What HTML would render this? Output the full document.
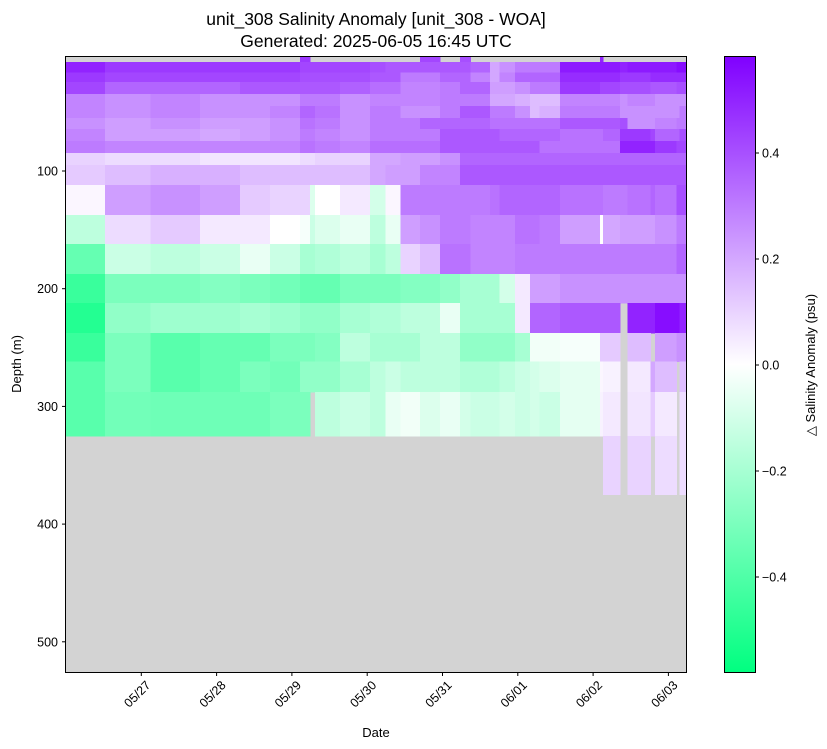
<!DOCTYPE html>
<html><head><meta charset="utf-8"><style>
body{margin:0;background:#fff;}
svg{display:block;font-family:"Liberation Sans",sans-serif;}
</style></head><body>
<svg id="chart" width="827" height="749" xmlns="http://www.w3.org/2000/svg">
<rect width="827" height="749" fill="#fff"/>
<text x="376" y="25" text-anchor="middle" font-size="17.5">unit_308 Salinity Anomaly [unit_308 - WOA]</text>
<text x="376" y="47" text-anchor="middle" font-size="17.5">Generated: 2025-06-05 16:45 UTC</text>
<rect x="66" y="57" width="620" height="615" fill="#d3d3d3"/>
<g id="cells" shape-rendering="crispEdges"></g>
<rect x="65.5" y="56.5" width="621" height="616" fill="none" stroke="#000" stroke-width="1"/>
<g id="xaxis"></g>
<g id="yaxis"></g>
<text x="376" y="737" text-anchor="middle" font-size="13">Date</text>
<text transform="translate(21,364) rotate(-90)" text-anchor="middle" font-size="13">Depth (m)</text>
<defs><linearGradient id="cbg" x1="0" y1="0" x2="0" y2="1">
<stop offset="0" stop-color="#8000ff"/><stop offset="0.5" stop-color="#ffffff"/><stop offset="1" stop-color="#00ff80"/>
</linearGradient></defs>
<rect x="724.5" y="56.5" width="31" height="616" fill="url(#cbg)" stroke="#000" stroke-width="1"/>
<g id="cbaxis"></g>
<text transform="translate(815,365) rotate(-90)" text-anchor="middle" font-size="13">△ Salinity Anomaly (psu)</text>
</svg>
<script>
// time edges of profile groups (days since 05/26 00:00)
const timeEdges=[0,0.52,1.12,1.78,2.31,2.71,3.11,3.24,3.31,3.64,4.04,4.24,4.44,4.70,4.97,5.23,5.37,5.63,5.76,5.96,6.16,6.29,6.56,7.09,7.13,7.36,7.46,7.76,7.82,8.11,8.15,8.24];
// depth bin edges (m)
const depthEdges=[2.5,7.5,16.5,24.5,34.6,44.8,55,64.3,74.5,84.7,94.9,112,137.5,162,187.5,212,237.6,262,287.8,325,375];
const N=NaN;
const row0=[N,N,N,N,N,N,.45,N,N,N,N,N,N,.42,N,.4,N,N,N,N,N,N,N,.5,N,N,N,N,N,N,N];
const row1=[.5,.45,.45,.45,.45,.45,.42,.42,.42,.42,.4,.38,.38,.38,.38,.38,.35,.2,.25,.3,.3,.3,.52,.52,.52,.5,.52,.52,.52,.55,.55];
const row2=[.45,.42,.42,.42,.42,.42,.4,.4,.4,.4,.38,.38,.3,.3,.35,.35,.28,.2,.28,.35,.35,.35,.48,.48,.48,.45,.45,.48,.48,.48,.48];
const row3=[.42,.35,.35,.35,.38,.38,.38,.38,.38,.36,.33,.33,.28,.28,.3,.35,.35,.22,.22,.25,.3,.3,.45,.42,.42,.4,.4,.38,.38,.4,.4];
const row4=[.28,.25,.28,.25,.25,.25,.3,.3,.3,.25,.28,.28,.28,.28,.3,.3,.3,.2,.2,.18,.15,.15,.28,.28,.28,.25,.28,.28,.25,.25,.25];
const row5=[.28,.25,.28,.25,.25,.28,.35,.35,.32,.25,.3,.3,.25,.25,.3,.38,.38,.3,.3,.25,.15,.18,.3,.3,.3,.25,.25,.25,.25,.25,.3];
const row6=[.25,.22,.25,.22,.22,.25,.32,.32,.3,.25,.3,.3,.3,.35,.35,.35,.35,.32,.32,.32,.32,.32,.38,.38,.38,.4,.25,.25,.28,.3,.3];
const row7=[.28,.22,.22,.2,.22,.25,.3,.3,.28,.25,.3,.3,.3,.3,.38,.38,.38,.38,.35,.35,.35,.35,.32,.32,.35,.45,.45,.42,.35,.35,.4];
const row8=[.3,.28,.28,.28,.28,.28,.32,.32,.3,.28,.33,.33,.33,.33,.38,.38,.38,.38,.38,.38,.38,.32,.32,.32,.32,.5,.5,.5,.45,.42,.42];
const row9=[.1,.08,.08,.06,.06,.06,.08,.08,.1,.1,.2,.2,.22,.22,.25,.35,.35,.35,.35,.35,.35,.35,.35,.35,.35,.35,.35,.35,.35,.35,.35];
const row10=[.12,.15,.18,.18,.15,.15,.15,.15,.15,.15,.2,.22,.22,.28,.28,.38,.38,.38,.38,.38,.38,.38,.38,.38,.38,.38,.38,.38,.38,.38,.38];
const row11=[.02,.22,.25,.22,.12,.1,.1,-.08,0,.05,-.1,.02,.3,.3,.3,.3,.3,.32,.35,.35,.35,.35,.32,.32,.3,.3,.32,.35,.32,.4,.4];
const row12=[-.15,.08,.12,.05,.05,0,-.02,-.12,-.08,-.05,-.15,-.05,.22,.25,.3,.3,.28,.28,.28,.32,.32,.3,.22,0,.2,.22,.22,.22,.25,.3,.3];
const row13=[-.35,-.12,-.15,-.12,-.05,-.12,-.2,-.2,-.18,-.15,-.2,-.15,.1,.15,.32,.32,.28,.28,.28,.3,.3,.3,.3,.3,.3,.3,.3,.3,.3,.35,.35];
const row14=[-.45,-.3,-.3,-.28,-.3,-.32,-.35,-.35,-.35,-.3,-.3,-.3,-.28,-.28,-.25,-.2,-.2,-.2,-.1,.05,.22,.22,.25,.25,.25,.25,.25,.25,.25,.25,.25];
const row15=[-.5,-.25,-.22,-.22,-.2,-.22,-.25,-.25,-.25,-.2,-.18,-.18,-.15,-.15,-.05,-.2,-.2,-.2,-.2,.05,.35,.35,.38,.38,.38,N,.5,.5,.55,.55,.5];
const row16=[-.45,-.3,-.38,-.35,-.35,-.3,-.3,-.3,-.28,-.15,-.2,-.2,-.2,-.15,-.15,-.25,-.25,-.25,-.25,-.2,-.03,-.03,-.02,.12,.12,N,.15,N,.22,.25,.25];
const row17=[-.38,-.3,-.38,-.35,-.3,-.32,-.25,-.25,-.25,-.2,-.15,-.12,-.15,-.15,-.15,-.18,-.18,-.18,-.15,-.12,-.1,-.08,-.06,.02,.03,N,.05,.2,.15,N,.15];
const row18=[-.38,-.32,-.33,-.33,-.33,-.3,-.3,N,-.15,-.12,-.15,-.05,-.03,-.08,-.05,-.1,-.12,-.12,-.1,-.12,-.1,-.12,-.06,.03,.05,N,.06,.12,.05,N,.08];
const row19=[N,N,N,N,N,N,N,N,N,N,N,N,N,N,N,N,N,N,N,N,N,N,N,N,.1,N,.1,N,.08,N,.08];
const rows=[row0,row1,row2,row3,row4,row5,row6,row7,row8,row9,row10,row11,row12,row13,row14,row15,row16,row17,row18,row19];
const xTickDays=[1,2,3,4,5,6,7,8];
const xTickLabels=["05/27","05/28","05/29","05/30","05/31","06/01","06/02","06/03"];
const yTicks=[100,200,300,400,500];
const cbTicks=[0.4,0.2,0,-0.2,-0.4];
const cbLabels=["0.4","0.2","0.0","\u22120.2","\u22120.4"];

const NS="http://www.w3.org/2000/svg";
const X=d=>66+d*75.3;
const Y=m=>171+(m-100)*1.177;
const VMAX=0.58;
const CB=v=>365-v*530;
function color(v){
  let t=Math.max(-1,Math.min(1,v/VMAX));
  let r,g,b;
  if(t>=0){r=255-127*t;g=255-255*t;b=255;}else{t=-t;r=255-255*t;g=255;b=255-127*t;}
  return `rgb(${Math.round(r)},${Math.round(g)},${Math.round(b)})`;
}
const cells=document.getElementById('cells');
rows.forEach((row,ri)=>{
  row.forEach((v,ci)=>{
    if(isNaN(v))return;
    const x0=X(timeEdges[ci]),x1=Math.min(686,X(timeEdges[ci+1]));
    const y0=Math.max(57,Y(depthEdges[ri])),y1=Y(depthEdges[ri+1]);
    const r=document.createElementNS(NS,'rect');
    
    
    r.setAttribute('x',x0.toFixed(1));r.setAttribute('y',y0.toFixed(1));
    r.setAttribute('width',(x1-x0+0.5).toFixed(1));r.setAttribute('height',(y1-y0+0.5).toFixed(1));
    r.setAttribute('fill',color(v));
    cells.appendChild(r);
  });
});
const xa=document.getElementById('xaxis');
xTickDays.forEach((d,i)=>{
  const x=X(d);
  const l=document.createElementNS(NS,'line');
  
  
  l.setAttribute('x1',x);l.setAttribute('x2',x);l.setAttribute('y1',672);l.setAttribute('y2',676);l.setAttribute('stroke','#000');
  xa.appendChild(l);
  const t=document.createElementNS(NS,'text');
  
  
  t.setAttribute('font-size','12.5');t.setAttribute('text-anchor','end');
  t.setAttribute('transform',`translate(${x+10},${686}) rotate(-45)`);
  t.textContent=xTickLabels[i];
  xa.appendChild(t);
});
const ya=document.getElementById('yaxis');
yTicks.forEach(m=>{
  const y=Y(m);
  const l=document.createElementNS(NS,'line');
  
  
  l.setAttribute('x1',62);l.setAttribute('x2',66);l.setAttribute('y1',y);l.setAttribute('y2',y);l.setAttribute('stroke','#000');
  ya.appendChild(l);
  const t=document.createElementNS(NS,'text');
  
  
  t.setAttribute('font-size','12.5');t.setAttribute('text-anchor','end');
  t.setAttribute('x',58);t.setAttribute('y',y+4.5);
  t.textContent=m;
  ya.appendChild(t);
});
const ca=document.getElementById('cbaxis');
cbTicks.forEach((v,i)=>{
  const y=CB(v);
  const l=document.createElementNS(NS,'line');
  
  
  l.setAttribute('x1',755);l.setAttribute('x2',759);l.setAttribute('y1',y);l.setAttribute('y2',y);l.setAttribute('stroke','#000');
  ca.appendChild(l);
  const t=document.createElementNS(NS,'text');
  
  
  t.setAttribute('font-size','12.5');
  t.setAttribute('x',762);t.setAttribute('y',y+4.5);
  t.textContent=cbLabels[i];
  ca.appendChild(t);
});
</script>
</body></html>
